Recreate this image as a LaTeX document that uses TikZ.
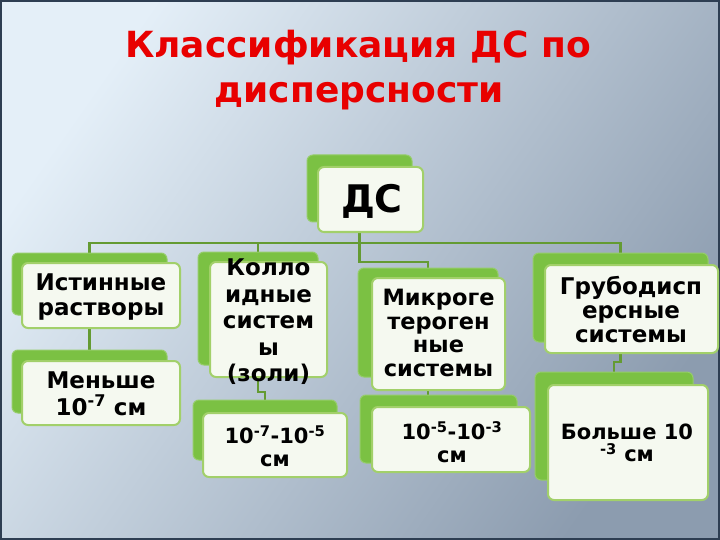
\documentclass[tikz,border=0pt]{standalone}
\usepackage{fontspec}
\setmainfont{DejaVu Sans}
\definecolor{bgA}{HTML}{E4EFF8}
\definecolor{bgB}{HTML}{8C9CAF}
\definecolor{backgreen}{HTML}{7BC143}
\definecolor{frontfill}{HTML}{F5F9F0}
\definecolor{frontline}{HTML}{A2D06A}
\definecolor{connc}{RGB}{100,155,50}
\definecolor{titred}{RGB}{232,0,0}
\definecolor{framec}{HTML}{2E3E52}
\pgfdeclarelayer{bg}
\pgfsetlayers{bg,main}
\begin{document}
\begin{tikzpicture}[x=1pt,y=-1pt,
  backbox/.style={fill=backgreen, draw=backgreen!80!white, line width=1pt, rounded corners=6pt, inner sep=0pt, outer sep=0pt},
  frontbox/.style={fill=frontfill, draw=frontline, line width=2pt, rounded corners=6pt, inner sep=0pt, outer sep=0pt},
  conn/.style={draw=connc, line width=2.4pt},
  boxtxt/.style={font=\bfseries\fontsize{23}{25}\selectfont, align=center, text=black, inner sep=0pt},
  smalltxt/.style={font=\bfseries\fontsize{21}{22.5}\selectfont, align=center, text=black, inner sep=0pt},
  titletxt/.style={font=\bfseries\fontsize{36}{40}\selectfont, text=titred, inner sep=0pt, anchor=base}]
\path[use as bounding box] (0,0) rectangle (720,540);

% title
\node[titletxt] (t1) at (358,58) {Классификация ДС по};
\node[titletxt] (t2) at (359,103) {дисперсности};

% DS
\node[backbox, minimum width=105pt, minimum height=67pt] (dsB) at (359.5,188.5) {};
\node[frontbox, minimum width=105pt, minimum height=65pt] (ds) at (370.5,199.5) {};
\node[font=\bfseries\fontsize{38}{40}\selectfont, inner sep=0pt] (dsT) at (372,201) {ДС};

% column 1
\node[backbox, minimum width=155pt, minimum height=62pt] (istB) at (89.5,284) {};
\node[frontbox, minimum width=158pt, minimum height=65pt] (ist) at (101,295.5) {};
\node[boxtxt] (istT) at (101,297) {Истинные\\растворы};
\node[backbox, minimum width=155pt, minimum height=63pt] (menB) at (89.5,381.5) {};
\node[frontbox, minimum width=158pt, minimum height=64pt] (men) at (101,393) {};
\node[boxtxt, font=\bfseries\fontsize{23}{27}\selectfont] (menT) at (101,394) {Меньше\\10\textsuperscript{-7} см};

% column 2
\node[backbox, minimum width=120pt, minimum height=113pt] (kolB) at (258,308.5) {};
\node[frontbox, minimum width=117pt, minimum height=115pt] (kol) at (268.5,319.5) {};
\node[boxtxt, font=\bfseries\fontsize{23}{26.5}\selectfont] (kolT) at (268.5,322) {Колло\\идные\\систем\\ы\\(золи)};
\node[backbox, minimum width=144pt, minimum height=60pt] (r2B) at (265,430) {};
\node[frontbox, minimum width=144pt, minimum height=64pt] (r2) at (275,445) {};
\node[smalltxt] (r2T) at (275,446) {10\textsuperscript{-7}-10\textsuperscript{-5}\\см};

% column 3
\node[backbox, minimum width=140pt, minimum height=109pt] (mikB) at (428,322.5) {};
\node[frontbox, minimum width=133pt, minimum height=112pt] (mik) at (438.5,334) {};
\node[boxtxt, font=\bfseries\fontsize{22.5}{23.5}\selectfont] (mikT) at (438.5,333) {Микроге\\тероген\\ные\\системы};
\node[backbox, minimum width=157pt, minimum height=68pt] (r3B) at (438.5,429) {};
\node[frontbox, minimum width=158pt, minimum height=65pt] (r3) at (451,439.5) {};
\node[smalltxt] (r3T) at (452,442) {10\textsuperscript{-5}-10\textsuperscript{-3}\\см};

% column 4
\node[backbox, minimum width=175pt, minimum height=89pt] (grubB) at (620.5,297.5) {};
\node[frontbox, minimum width=173pt, minimum height=88pt] (grub) at (631.5,309) {};
\node[boxtxt, font=\bfseries\fontsize{23}{24}\selectfont] (grubT) at (631,310) {Грубодисп\\ерсные\\системы};
\node[backbox, minimum width=158pt, minimum height=108pt] (bolB) at (614,426) {};
\node[frontbox, minimum width=160pt, minimum height=115pt] (bol) at (628,442.5) {};
\node[smalltxt] (bolT) at (627,443) {Больше 10\\\textsuperscript{-3} см};

\begin{pgfonlayer}{bg}
  \shade[top color=bgA, bottom color=bgB, shading angle=55] (0,0) rectangle (720,540);
  \draw[framec, line width=2pt] (1,1) rectangle (719,539);
  \coordinate (jh) at (360,243);
  \coordinate (jm) at (0,262);
  \coordinate (k1) at (0,392);
  \coordinate (m1) at (0,396);
  \coordinate (g1) at (0,362);
  \draw[conn] (istB.center) -- (istB.center |- jh) -- (grubB.center |- jh) -- (grubB.center);
  \draw[conn] (kolB.center) -- (kolB.center |- jh);
  \draw[conn] (dsB.center) -- (dsB.center |- jm) -| (mikB.center);
  \draw[conn] (istB.center) -- (menB.center);
  \draw[conn] (kolB.center) -- (kolB.center |- k1) -| (r2B.center);
  \draw[conn] (mikB.center) -- (mikB.center |- m1) -| (r3B.center);
  \draw[conn] (grubB.center) -- (grubB.center |- g1) -| (bolB.center);
\end{pgfonlayer}
\end{tikzpicture}
\end{document}
